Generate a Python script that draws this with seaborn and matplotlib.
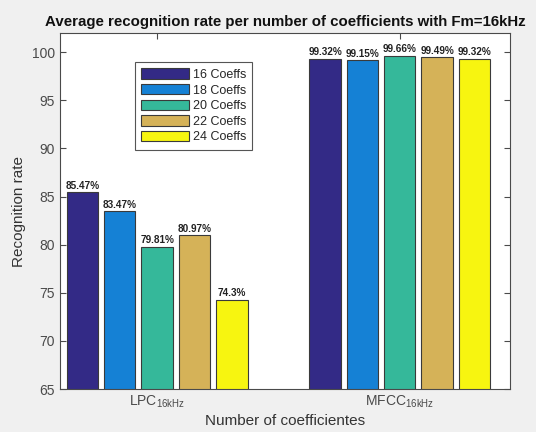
import matplotlib
matplotlib.use('Agg')
import matplotlib.pyplot as plt
import seaborn as sns
import pandas as pd

features = ['LPC', 'MFCC']
tick_labels = [r'LPC$_{\mathregular{16kHz}}$', r'MFCC$_{\mathregular{16kHz}}$']
coeffs = ['16 Coeffs', '18 Coeffs', '20 Coeffs', '22 Coeffs', '24 Coeffs']
lpc_rates = [85.47, 83.47, 79.81, 80.97, 74.3]
mfcc_rates = [99.32, 99.15, 99.66, 99.49, 99.32]
lpc_text = ['85.47%', '83.47%', '79.81%', '80.97%', '74.3%']
mfcc_text = ['99.32%', '99.15%', '99.66%', '99.49%', '99.32%']
colors = ['#332a86', '#1581d5', '#35b89a', '#d5b258', '#f7f510']

rows = []
for i, c in enumerate(coeffs):
    rows.append({'feature': features[0], 'coeffs': c, 'rate': lpc_rates[i]})
    rows.append({'feature': features[1], 'coeffs': c, 'rate': mfcc_rates[i]})
df = pd.DataFrame(rows)

sns.set_style('ticks')
plt.rcParams['font.family'] = ['Liberation Sans', 'DejaVu Sans']

fig = plt.figure(figsize=(5.36, 4.32), dpi=100, facecolor='#f0f0f0')
ax = fig.add_axes([0.112, 0.0995, 0.839, 0.824])
ax.set_facecolor('white')

sns.barplot(data=df, x='feature', y='rate', hue='coeffs', order=features,
            hue_order=coeffs, palette=colors, saturation=1, width=0.77, gap=0.16,
            edgecolor='#3a3a3a', linewidth=0.8, ax=ax, errorbar=None)

for i, cont in enumerate(ax.containers):
    ax.bar_label(cont, labels=[lpc_text[i], mfcc_text[i]], fontsize=7.2,
                 fontweight='bold', color='#222222', padding=1)

ax.set_ylim(65, 102)
ax.set_xlim(-0.40, 1.453)
ax.set_yticks([65, 70, 75, 80, 85, 90, 95, 100])
ax.set_xticks([0, 1])
ax.set_xticklabels(tick_labels)
ax.tick_params(direction='in', top=True, right=True, length=4, width=0.8,
               colors='#4a4a4a', labelsize=10, labelcolor='#4a4a4a')
for s in ax.spines.values():
    s.set_visible(True)
    s.set_color('#4a4a4a')
    s.set_linewidth(0.8)

ax.set_title('Average recognition rate per number of coefficients with Fm=16kHz',
             fontsize=10.8, fontweight='bold', color='#111111', pad=5)
ax.set_ylabel('Recognition rate', fontsize=11, color='#333333', labelpad=4)
ax.set_xlabel('Number of coefficientes', fontsize=11, color='#333333', labelpad=3)

leg = ax.legend(loc='upper left', bbox_to_anchor=(0.167, 0.918), borderaxespad=0,
                fontsize=9, handlelength=3.8, handleheight=0.9, labelspacing=0.25,
                handletextpad=0.3, borderpad=0.5, fancybox=False, framealpha=1,
                edgecolor='#555555', title=None)
leg.get_frame().set_linewidth(0.8)

fig.savefig('out.png', dpi=100, facecolor=fig.get_facecolor())
